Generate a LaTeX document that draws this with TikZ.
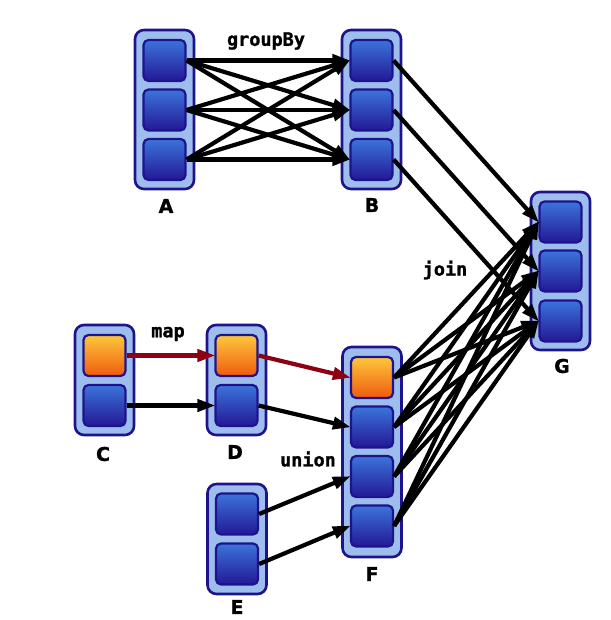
\documentclass[tikz,border=0pt]{standalone}
\usepackage{fontspec}
\setmainfont{DejaVu Sans}
\newfontfamily\monob[FakeBold=1.2]{DejaVu Sans Mono Bold}
\newfontfamily\sansb[FakeBold=1]{DejaVu Sans Bold}
\usetikzlibrary{arrows.meta}
\definecolor{contfill}{HTML}{9DBDEC}
\definecolor{navy}{HTML}{1E138C}
\definecolor{btop}{HTML}{3B74DA}
\definecolor{bbot}{HTML}{231896}
\definecolor{otop}{HTML}{FCC83C}
\definecolor{obot}{HTML}{F05A0E}
\definecolor{redarr}{HTML}{8C0012}
\tikzset{
  cont/.style={draw=navy, line width=2.6pt, fill=contfill, rounded corners=9pt, inner sep=0pt},
  bluebox/.style={draw=navy, line width=2.2pt, top color=btop, bottom color=bbot, rounded corners=5pt, minimum width=42pt, minimum height=41pt, inner sep=0pt},
  orangebox/.style={draw=navy, line width=2.2pt, top color=otop, bottom color=obot, rounded corners=5pt, minimum width=42pt, minimum height=41pt, inner sep=0pt},
  lbl/.style={font=\sansb\fontsize{19}{21}\selectfont, inner sep=0pt},
  op/.style={font=\monob\fontsize{18.5}{20}\selectfont, inner sep=0pt},
  arr/.style={line width=4.2pt, -{Triangle[length=18pt,width=12pt]}, shorten >=-1pt},
  rarr/.style={arr, draw=redarr, color=redarr},
}
\begin{document}
\begin{tikzpicture}[x=1pt,y=-1pt]
\useasboundingbox (0,0) rectangle (610,620);
% containers
\node[cont, minimum width=59pt, minimum height=159pt] (Ac) at (164.5,109.5) {};
\node[cont, minimum width=59pt, minimum height=159pt] (Bc) at (371.5,109.5) {};
\node[cont, minimum width=59pt, minimum height=158pt] (Gc) at (560.5,271) {};
\node[cont, minimum width=59pt, minimum height=110pt] (Cc) at (104.5,380) {};
\node[cont, minimum width=59pt, minimum height=110pt] (Dc) at (236.5,380) {};
\node[cont, minimum width=59pt, minimum height=210pt] (Fc) at (372,452) {};
\node[cont, minimum width=59pt, minimum height=110pt] (Ec) at (237,539) {};
% inner boxes
\node[bluebox] (a1) at (164.5,60.5) {};
\node[bluebox] (a2) at (164.5,110) {};
\node[bluebox] (a3) at (164.5,159.5) {};
\node[bluebox] (b1) at (371.5,60.5) {};
\node[bluebox] (b2) at (371.5,110) {};
\node[bluebox] (b3) at (371.5,159.5) {};
\node[bluebox] (g1) at (560.5,222) {};
\node[bluebox] (g2) at (560.5,271) {};
\node[bluebox] (g3) at (560.5,321) {};
\node[orangebox] (c1) at (104.5,355.5) {};
\node[bluebox] (c2) at (104.5,405.5) {};
\node[orangebox] (d1) at (236.5,355.5) {};
\node[bluebox] (d2) at (236.5,405.5) {};
\node[orangebox] (f1) at (372,377.5) {};
\node[bluebox] (f2) at (372,427) {};
\node[bluebox] (f3) at (372,476.5) {};
\node[bluebox] (f4) at (372,526) {};
\node[bluebox] (e1) at (237,514) {};
\node[bluebox] (e2) at (237,564) {};
% labels
\node[lbl] (lA) at (166,206) {A};
\node[lbl] (lB) at (372,205) {B};
\node[lbl] (lC) at (103,454) {C};
\node[lbl] (lD) at (235,452) {D};
\node[lbl] (lE) at (237,607) {E};
\node[lbl] (lF) at (372,574) {F};
\node[lbl] (lG) at (562,366) {G};
\node[op] (tgb) at (266,41) {groupBy};
\node[op] (tmap) at (168,334) {map};
\node[op] (tjoin) at (445,270) {join};
\node[op] (tunion) at (308,459) {union};
% groupBy arrows
\foreach \i in {1,2,3}{
  \foreach \j in {1,2,3}{
    \draw[arr] (a\i.east) -- (b\j.west);
  }
}
% B -> G
\foreach \i in {1,2,3}{
  \draw[arr] (b\i.east) -- (g\i.west);
}
% F -> G
\foreach \i in {1,2,3,4}{
  \foreach \j in {1,2,3}{
    \draw[arr] (f\i.east) -- (g\j.west);
  }
}
% map
\draw[rarr] (c1.east) -- (d1.west);
\draw[arr] (c2.east) -- (d2.west);
% union
\draw[rarr] (d1.east) -- (f1.west);
\draw[arr] (d2.east) -- (f2.west);
\draw[arr] (e1.east) -- (f3.west);
\draw[arr] (e2.east) -- (f4.west);
\end{tikzpicture}
\end{document}
